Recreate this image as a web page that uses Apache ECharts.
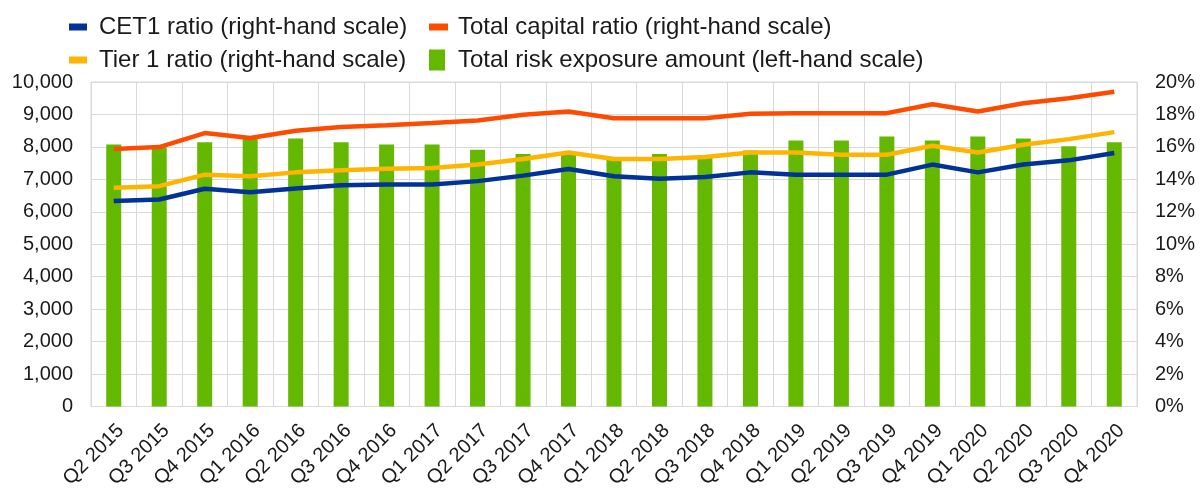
<!DOCTYPE html>
<html>
<head>
<meta charset="utf-8">
<script src="https://cdn.jsdelivr.net/npm/echarts@6/dist/echarts.min.js"></script>
<style>
  html, body { margin: 0; padding: 0; background: #fff; }
  #chart { width: 1201px; height: 491px; }
</style>
</head>
<body>
<div id="chart"></div>
<script>
/* categories */
var quarters = ['Q2 2015', 'Q3 2015', 'Q4 2015', 'Q1 2016', 'Q2 2016', 'Q3 2016', 'Q4 2016',
    'Q1 2017', 'Q2 2017', 'Q3 2017', 'Q4 2017', 'Q1 2018', 'Q2 2018', 'Q3 2018', 'Q4 2018',
    'Q1 2019', 'Q2 2019', 'Q3 2019', 'Q4 2019', 'Q1 2020', 'Q2 2020', 'Q3 2020', 'Q4 2020'];

/* total risk exposure amount (left-hand scale) */
var riskExposure = [8070, 7980, 8140, 8250, 8260, 8140, 8070, 8070, 7910, 7780, 7760, 7690,
    7780, 7690, 7890, 8200, 8200, 8320, 8200, 8320, 8260, 8020, 8140];

/* ratios, % (right-hand scale) */
var cet1 = [12.66, 12.76, 13.42, 13.21, 13.44, 13.64, 13.68, 13.68, 13.89, 14.23, 14.64, 14.19,
    14.03, 14.15, 14.43, 14.29, 14.29, 14.29, 14.91, 14.43, 14.91, 15.17, 15.62];
var tier1 = [13.48, 13.58, 14.29, 14.19, 14.43, 14.56, 14.66, 14.70, 14.91, 15.25, 15.66, 15.25,
    15.25, 15.38, 15.66, 15.66, 15.52, 15.52, 16.07, 15.66, 16.13, 16.48, 16.91];
var totalCapital = [15.87, 15.99, 16.85, 16.55, 16.99, 17.22, 17.34, 17.47, 17.63, 17.98, 18.18, 17.77,
    17.77, 17.77, 18.04, 18.08, 18.08, 18.08, 18.63, 18.18, 18.69, 19.00, 19.40];

var FONT = '"Liberation Sans", Arial, sans-serif';
var TXT = '#1a1a1a';

/************************    legend helper    ****************************/
function legendItem(name, left, top, w, h, gap) {
    return {
        data: [name],
        left: left,
        top: top,
        padding: 0,
        itemWidth: w,
        itemHeight: h,
        itemGap: 0,
        icon: 'rect',
        selectedMode: false,
        textStyle: { fontFamily: FONT, fontSize: 24, lineHeight: 24, color: TXT, padding: [0, 0, 0, gap] }
    };
}

var chart = echarts.init(document.getElementById('chart'));

chart.setOption({
    animation: false,
    backgroundColor: '#fff',
    legend: [
        legendItem('CET1 ratio (right-hand scale)', 69, 15, 18, 7, 7),
        legendItem('Total capital ratio (right-hand scale)', 429, 15, 19, 7, 5),
        legendItem('Tier 1 ratio (right-hand scale)', 69, 48, 18, 7, 7),
        legendItem('Total risk exposure amount (left-hand scale)', 429, 48, 16, 21, 8)
    ],
    grid: {
        left: 91,
        right: 64,
        top: 82,
        bottom: 82,
        show: true,
        borderColor: '#d9d9d9',
        borderWidth: 1
    },
    xAxis: {
        type: 'category',
        data: quarters,
        boundaryGap: true,
        axisLine: { show: true, lineStyle: { color: '#d9d9d9' } },
        axisTick: { show: false },
        splitLine: { show: true, interval: 0, lineStyle: { color: '#d9d9d9' } },
        axisLabel: {
            interval: 0,
            rotate: 45,
            margin: 14,
            verticalAlign: 'top',
            fontFamily: FONT,
            fontSize: 20,
            color: TXT
        }
    },
    yAxis: [
        {
            type: 'value',
            min: 0,
            max: 10000,
            interval: 1000,
            axisLine: { show: false },
            axisTick: { show: false },
            splitLine: { lineStyle: { color: '#d9d9d9' } },
            axisLabel: {
                margin: 18,
                fontFamily: FONT,
                fontSize: 20,
                color: TXT,
                formatter: function (v) { return v.toLocaleString('en-US'); }
            }
        },
        {
            type: 'value',
            min: 0,
            max: 20,
            interval: 2,
            axisLine: { show: false },
            axisTick: { show: false },
            splitLine: { show: false },
            axisLabel: {
                margin: 18,
                fontFamily: FONT,
                fontSize: 20,
                color: TXT,
                formatter: '{value}%'
            }
        }
    ],
    series: [
        {
            name: 'Total risk exposure amount (left-hand scale)',
            type: 'bar',
            yAxisIndex: 0,
            data: riskExposure,
            barWidth: 15,
            itemStyle: { color: '#65B800' },
            z: 1
        },
        {
            name: 'Total capital ratio (right-hand scale)',
            type: 'line',
            yAxisIndex: 1,
            data: totalCapital,
            symbol: 'none',
            lineStyle: { color: '#FF4B00', width: 4.5 },
            itemStyle: { color: '#FF4B00' },
            z: 3
        },
        {
            name: 'Tier 1 ratio (right-hand scale)',
            type: 'line',
            yAxisIndex: 1,
            data: tier1,
            symbol: 'none',
            lineStyle: { color: '#FFB400', width: 4.5 },
            itemStyle: { color: '#FFB400' },
            z: 3
        },
        {
            name: 'CET1 ratio (right-hand scale)',
            type: 'line',
            yAxisIndex: 1,
            data: cet1,
            symbol: 'none',
            lineStyle: { color: '#003299', width: 4.5 },
            itemStyle: { color: '#003299' },
            z: 4
        }
    ]
});
</script>
</body>
</html>
